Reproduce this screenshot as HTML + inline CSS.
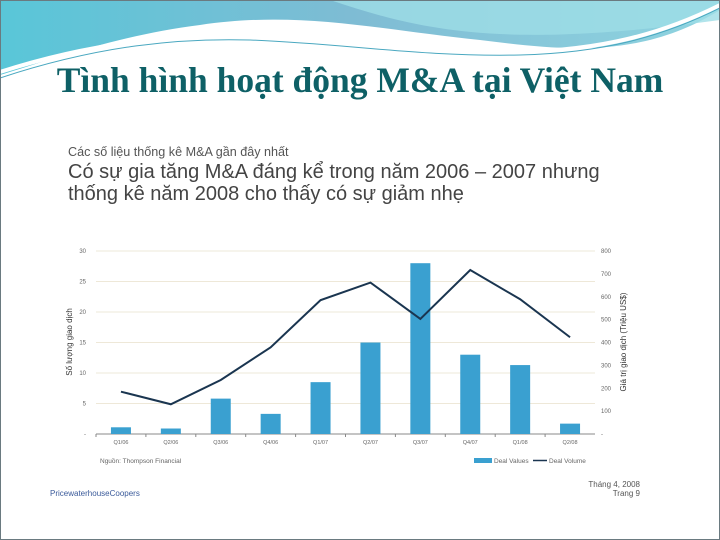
<!DOCTYPE html>
<html><head><meta charset="utf-8">
<style>
body{margin:0;width:720px;height:540px;overflow:hidden;background:#fff;font-family:"Liberation Sans",sans-serif;position:relative}
.frame{position:absolute;left:0;top:0;width:718px;height:538px;border:1px solid #6a7a80}
.hdr{position:absolute;left:0;top:0}
h1{position:absolute;left:0;width:720px;top:59px;margin:0;text-align:center;font-family:"Liberation Serif",serif;font-weight:bold;font-size:35.5px;color:#0e6066;white-space:nowrap}
.panel{position:absolute;left:48px;top:140px;width:606px;height:362px;background:#fff}
.sub{position:absolute;left:68px;top:145px;font-size:12.6px;color:#555;white-space:nowrap}
.big{position:absolute;left:68px;top:161px;font-size:20px;line-height:22px;color:#444;white-space:nowrap}
</style></head><body>
<svg class="hdr" width="720" height="140">
<defs><linearGradient id="g" x1="0" x2="1"><stop offset="0" stop-color="#59c6d8"/><stop offset="0.5" stop-color="#7fbcd4"/><stop offset="1" stop-color="#8fd4e0"/></linearGradient></defs>
<rect width="720" height="140" fill="#fff"/>
<path d="M0 0 H720 V10 C640 60 560 50 480 40 C380 30 300 10 200 25 C120 35 50 60 0 75 Z" fill="url(#g)"/>
<path d="M330 0 C420 30 500 50 720 20 V0 Z" fill="#9edde6" opacity="0.8"/>
<path d="M0 72 C100 40 180 35 250 37 C350 40 420 55 520 52 C600 50 660 35 720 5" stroke="#fff" stroke-width="4" fill="none"/>
<path d="M0 78 C100 45 180 38 250 40 C350 44 420 57 520 55 C600 53 660 38 720 8" stroke="#4aa8c0" stroke-width="1" fill="none"/>
</svg>
<div class="frame"></div>
<h1>Tình hình hoạt động M&amp;A tại Việt Nam</h1>
<div class="panel"></div>
<div class="sub">Các số liệu thống kê M&amp;A gần đây nhất</div>
<div class="big">Có sự gia tăng M&amp;A đáng kể trong năm 2006 – 2007 nhưng<br>thống kê năm 2008 cho thấy có sự giảm nhẹ</div>
<svg id="ch" width="720" height="540" style="position:absolute;left:0;top:0"></svg>
<script>
const categories=["Q1/06","Q2/06","Q3/06","Q4/06","Q1/07","Q2/07","Q3/07","Q4/07","Q1/08","Q2/08"];
const dealValues=[1.1,0.9,5.8,3.3,8.5,15,28,13,11.3,1.7];
const dealVolume=[185,130,236,379,585,662,503,717,589,423];
const leftTicks=[0,5,10,15,20,25,30];
const rightTicks=[0,100,200,300,400,500,600,700,800];
const NS="http://www.w3.org/2000/svg",svg=document.getElementById('ch');
const x0=96,x1=595,yT=251,yB=434;
const yL=v=>yB-(v/30)*(yB-yT), yR=v=>yB-(v/800)*(yB-yT);
const bw=(x1-x0)/categories.length, xc=i=>x0+bw*(i+0.5);
function el(t,a,txt){const e=document.createElementNS(NS,t);for(const k in a)e.setAttribute(k,a[k]);if(txt!==undefined)e.textContent=txt;svg.appendChild(e);return e;}
leftTicks.forEach(v=>{
 if(v>0){const g=el('line',{x1:x0,x2:x1,y1:yL(v),y2:yL(v),stroke:'#eee8d8','stroke-width':1});}
 const t=el('text',{x:86,y:yL(v)+2,'font-size':6,fill:'#666','text-anchor':'end'},v===0?'-':v);
 
 
});
rightTicks.forEach(v=>{
 const t=el('text',{x:601,y:yR(v)+2,'font-size':6,fill:'#666'},v===0?'-':v);
 
 
});
const ax=el('line',{x1:x0,x2:x1,y1:yB,y2:yB,stroke:'#888','stroke-width':1});


categories.forEach((c,i)=>{
 const h=el('rect',{x:xc(i)-10,y:yL(dealValues[i]),width:20,height:yB-yL(dealValues[i]),fill:'#3aa0d0'});
 
 
 const tk=el('line',{x1:x0+bw*i,x2:x0+bw*i,y1:yB,y2:yB+3,stroke:'#888'});
 
 
 const t=el('text',{x:xc(i),y:yB+10,'font-size':5.5,fill:'#666','text-anchor':'middle'},c);
 
 
});
const ln=el('polyline',{points:dealVolume.map((v,i)=>xc(i)+','+yR(v)).join(' '),fill:'none',stroke:'#1a3550','stroke-width':2});


const a1=el('text',{x:72,y:342,'font-size':8,fill:'#333','text-anchor':'middle',transform:'rotate(-90 72 342)'},'Số lượng giao dịch');


const a2=el('text',{x:626,y:342,'font-size':8,fill:'#333','text-anchor':'middle',transform:'rotate(-90 626 342)'},'Giá trị giao dịch (Triệu US$)');


const s=el('text',{x:100,y:463,'font-size':6.5,fill:'#666'},'Nguồn: Thompson Financial');


const l1=el('rect',{x:474,y:458,width:18,height:5,fill:'#3aa0d0'});


const l2=el('text',{x:494,y:463,'font-size':6.5,fill:'#666'},'Deal Values');


const l3=el('line',{x1:533,x2:547,y1:460.5,y2:460.5,stroke:'#1a3550','stroke-width':1.5});


const l4=el('text',{x:549,y:463,'font-size':6.5,fill:'#666'},'Deal Volume');


const f1=el('text',{x:50,y:496,'font-size':8,fill:'#3a5a9a'},'PricewaterhouseCoopers');


const f2=el('text',{x:640,y:487,'font-size':8,fill:'#555','text-anchor':'end'},'Tháng 4, 2008');


const f3=el('text',{x:640,y:496,'font-size':8,fill:'#555','text-anchor':'end'},'Trang 9');


</script>
</body></html>
